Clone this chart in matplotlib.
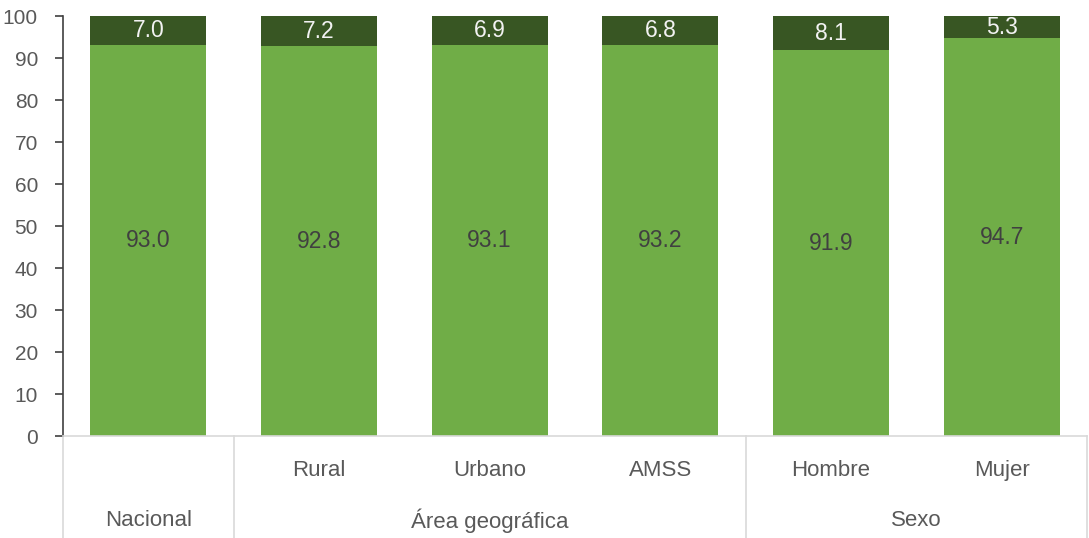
import matplotlib
matplotlib.use("Agg")
import matplotlib.pyplot as plt
import matplotlib.transforms as mtransforms

plt.rcParams['font.family'] = ['Liberation Sans', 'DejaVu Sans']

categories = ["Nacional", "Rural", "Urbano", "AMSS", "Hombre", "Mujer"]
sub_labels = ["", "Rural", "Urbano", "AMSS", "Hombre", "Mujer"]
groups = [("Nacional", 0, 0), ("Área geográfica", 1, 3), ("Sexo", 4, 5)]
series_a = [93.0, 92.8, 93.1, 93.2, 91.9, 94.7]
series_b = [7.0, 7.2, 6.9, 6.8, 8.1, 5.3]
yticks = list(range(0, 101, 10))

light = "#70AD47"
dark = "#385623"
txt = "#595959"

fig = plt.figure(figsize=(10.89, 5.38), dpi=100)
ax = fig.add_axes([63/1089, 1-436/538, (1087-63)/1089, 420/538])

x = list(range(len(categories)))
w = 0.68
ax.bar(x, series_a, width=w, color=light, edgecolor="none")
ax.bar(x, series_b, width=w, bottom=series_a, color=dark, edgecolor="none")

for i in x:
    ax.text(i, series_a[i]/2, f"{series_a[i]:.1f}", ha="center", va="center",
            fontsize=16.5, color="#404040")
    ax.text(i, series_a[i] + series_b[i]/2, f"{series_b[i]:.1f}", ha="center", va="center",
            fontsize=16.5, color="#F2F2F2")

ax.set_xlim(-0.5, 5.5)
ax.set_ylim(0, 100)
ax.set_yticks(yticks)
ax.tick_params(axis="y", labelsize=15, labelcolor=txt, color="#404040", length=6, width=1.2, pad=12)
ax.set_xticks([])
for s in ["top", "right"]:
    ax.spines[s].set_visible(False)
ax.spines["left"].set_color("#404040")
ax.spines["left"].set_linewidth(1.2)
ax.spines["bottom"].set_color("#D9D9D9")
ax.spines["bottom"].set_linewidth(1.2)

trans = mtransforms.blended_transform_factory(ax.transData, ax.transAxes)
for xs in [-0.5, 0.5, 3.5, 5.5]:
    ax.plot([xs, xs], [0, -0.25], transform=trans, color="#D9D9D9", lw=1.2, clip_on=False)

for i, lab in enumerate(sub_labels):
    if lab:
        ax.text(i, -0.081, lab, transform=trans, ha="center", va="center", fontsize=16, color=txt)
for name, a, b in groups:
    ax.text((a + b) / 2, -0.202, name, transform=trans, ha="center", va="center", fontsize=16, color=txt)

fig.savefig("out.png", dpi=100)
